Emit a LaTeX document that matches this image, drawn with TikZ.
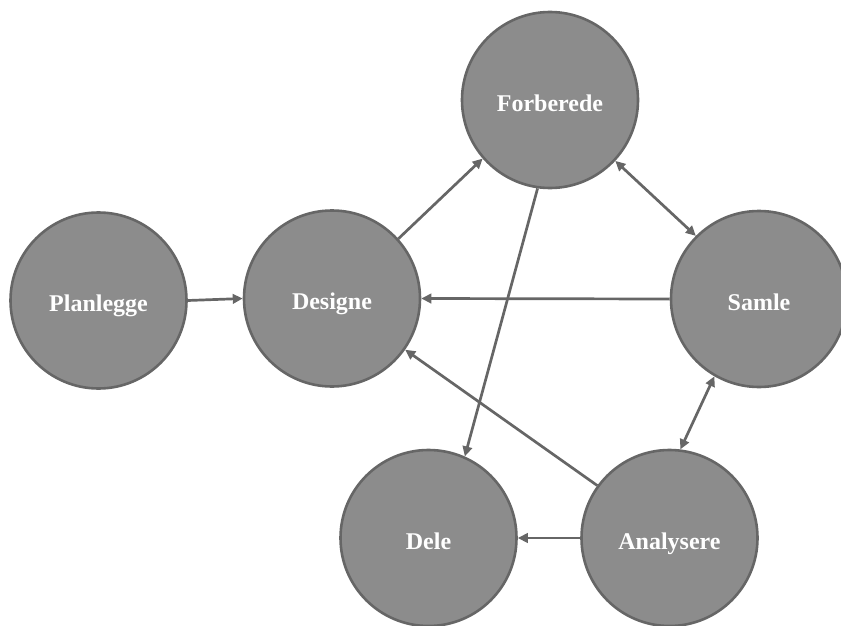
\documentclass[tikz,border=0pt]{standalone}
\usepackage{fontspec}
\setmainfont{Liberation Serif}
\usetikzlibrary{arrows.meta}
\definecolor{stagefill}{HTML}{8C8C8C}
\definecolor{stageedge}{HTML}{666666}
\definecolor{linkcol}{HTML}{666666}
\begin{document}
\begin{tikzpicture}[x=1pt,y=-1pt,
  stage/.style={circle, draw=stageedge, line width=2.6pt, fill=stagefill,
    minimum size=176pt, inner sep=0pt, text=white,
    text height=22pt, text depth=0pt,
    font=\fontsize{24}{28}\selectfont\bfseries},
  tip/.style={Triangle[length=10pt,width=9.5pt]},
  link/.style={draw=linkcol, line width=2.7pt, -{Triangle[length=10pt,width=9.5pt]}},
  twoway/.style={draw=linkcol, line width=2.7pt,
    {Triangle[length=10pt,width=9.5pt]}-{Triangle[length=10pt,width=9.5pt]}}]
  \useasboundingbox (0,0) rectangle (841,626);
  % stages of the cycle
  \node[stage] (plan) at (98.5,300.5) {Planlegge};
  \node[stage] (desi) at (332,298.5) {Designe};
  \node[stage] (forb) at (550,100) {Forberede};
  \node[stage] (saml) at (759,299) {Samle};
  \node[stage] (dele) at (428.5,538) {Dele};
  \node[stage] (anal) at (669.5,538) {Analysere};
  % connections
  \draw[link] (plan.east) -- (desi.west);
  \draw[link] (desi.42.5) -- (forb.221.3);
  \draw[twoway] (forb.317.6) -- (saml.135.9);
  \draw[link] (saml.west) -- (desi.east);
  \draw[link] (forb.262.9) -- (dele.66);
  \draw[twoway] (saml.240.6) -- (anal.83.3);
  \draw[link] (anal.144) -- (desi.325.5);
  \draw[link] (anal.west) -- (dele.east);
\end{tikzpicture}
\end{document}
